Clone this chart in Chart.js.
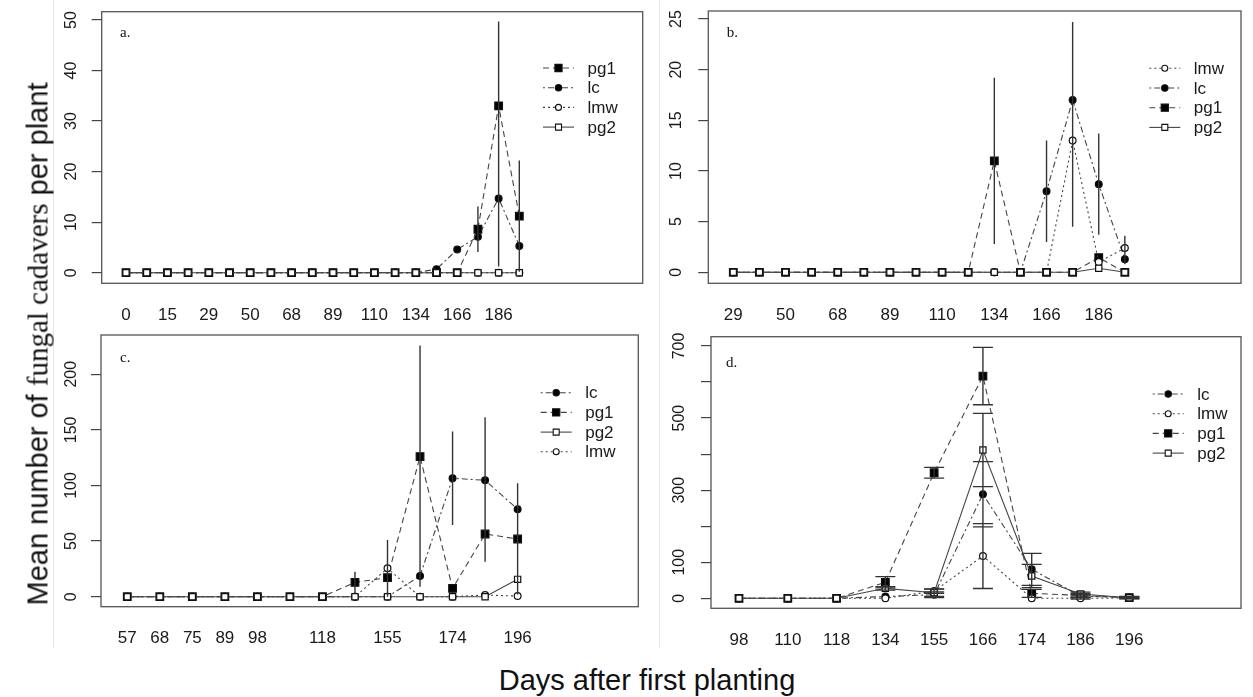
<!DOCTYPE html>
<html>
<head>
<meta charset="utf-8">
<title>Mean number of fungal cadavers per plant</title>
<script src="https://cdn.jsdelivr.net/npm/chart.js@4.4.1/dist/chart.umd.min.js"></script>
<style>
    body { margin: 0; background: #fff; }
    #wrap { position: relative; width: 1253px; height: 697px; overflow: hidden; font-family: "Liberation Sans", Arial, sans-serif; color: #111; }
    #wrap canvas { position: absolute; }
    .sep { position: absolute; width: 1px; background: #e6e6e6; }
    #ytitle { position: absolute; left: 38px; top: 344px; transform: translate(-50%, -50%) rotate(-90deg); white-space: nowrap; font-size: 29px; }
    #xtitle { position: absolute; left: 647px; top: 680px; transform: translate(-50%, -50%); white-space: nowrap; font-size: 29px; }
    .serif { font-family: "Liberation Serif", "Times New Roman", serif; }
</style>
</head>
<body>
<div id="wrap">
    <div class="sep" style="left:53px;top:0;height:648px"></div>
    <div class="sep" style="left:659px;top:0;height:648px"></div>
    <canvas id="chartA" width="610" height="330" style="left:40px;top:0"></canvas>
    <canvas id="chartB" width="603" height="330" style="left:650px;top:0"></canvas>
    <canvas id="chartC" width="610" height="330" style="left:40px;top:320px"></canvas>
    <canvas id="chartD" width="603" height="330" style="left:650px;top:320px"></canvas>
    <div id="ytitle">Mean number of <span class="serif">fungal cadavers</span> per plant</div>
    <div id="xtitle">Days after first planting</div>
</div>

<script>
const FONT = '"Liberation Sans", Arial, sans-serif';

// panel a - x labels ('' = no label at that sampling date)
const aDays = ['0', '', '15', '', '29', '', '50', '', '68', '', '89', '', '110', '', '134', '', '166', '', '186', ''];
const aPg1 = [0, 0, 0, 0, 0, 0, 0, 0, 0, 0, 0, 0, 0, 0, 0, 0, 0, 8.6, 33, 11.2];
const aLc = [0, 0, 0, 0, 0, 0, 0, 0, 0, 0, 0, 0, 0, 0, 0, 0.7, 4.6, 7.1, 14.7, 5.3];
const aLmw = [0, 0, 0, 0, 0, 0, 0, 0, 0, 0, 0, 0, 0, 0, 0, 0, 0, 0, 0, 0];
const aPg2 = [0, 0, 0, 0, 0, 0, 0, 0, 0, 0, 0, 0, 0, 0, 0, 0, 0, 0, 0, 0];
const aPg1Err = [0, 0, 0, 0, 0, 0, 0, 0, 0, 0, 0, 0, 0, 0, 0, 0, 0, 4.5, 16.7, 11];
const aLcErr = [0, 0, 0, 0, 0, 0, 0, 0, 0, 0, 0, 0, 0, 0, 0, 0, 0, 0, 13.5, 0];
const aTicks = [0, 10, 20, 30, 40, 50];

// panel b
const bDays = ['29', '', '50', '', '68', '', '89', '', '110', '', '134', '', '166', '', '186', ''];
const bLmw = [0, 0, 0, 0, 0, 0, 0, 0, 0, 0, 0, 0, 0, 13, 1, 2.4];
const bLc = [0, 0, 0, 0, 0, 0, 0, 0, 0, 0, 0, 0, 8, 17, 8.7, 1.3];
const bPg1 = [0, 0, 0, 0, 0, 0, 0, 0, 0, 0, 11, 0, 0, 0, 1.45, 0];
const bPg2 = [0, 0, 0, 0, 0, 0, 0, 0, 0, 0, 0, 0, 0, 0, 0.4, 0];
const bLmwErr = [0, 0, 0, 0, 0, 0, 0, 0, 0, 0, 0, 0, 0, 8.5, 0, 1.2];
const bLcErr = [0, 0, 0, 0, 0, 0, 0, 0, 0, 0, 0, 0, 5, 7.7, 5, 0.5];
const bPg1Err = [0, 0, 0, 0, 0, 0, 0, 0, 0, 0, 8.2, 0, 0, 0, 0, 0];
const bTicks = [0, 5, 10, 15, 20, 25];

// panel c
const cDays = ['57', '68', '75', '89', '98', '', '118', '', '155', '', '174', '', '196'];
const cLc = [0, 0, 0, 0, 0, 0, 0, 0, 0, 18.6, 106.5, 104.7, 78.6];
const cPg1 = [0, 0, 0, 0, 0, 0, 0, 12.9, 17.1, 125.9, 7.5, 56.4, 51.9];
const cPg2 = [0, 0, 0, 0, 0, 0, 0, 0, 0, 0, 0, 0, 15.6];
const cLmw = [0, 0, 0, 0, 0, 0, 0, 0, 25.5, 0, 0, 1.5, 0.6];
const cLcErr = [0, 0, 0, 0, 0, 0, 0, 0, 0, 9.6, 42, 56.6, 23.4];
const cPg1Err = [0, 0, 0, 0, 0, 0, 0, 9.5, 0, 100, 0, 25, 50];
const cLmwErr = [0, 0, 0, 0, 0, 0, 0, 0, 25.5, 0, 0, 0, 0];
const cTicks = [0, 50, 100, 150, 200];

// panel d
const dDays = ['98', '110', '118', '134', '155', '166', '174', '186', '196'];
const dLc = [0, 0, 0, 5, 10, 288.5, 80.4, 6, 2];
const dLmw = [0, 0, 0, 0, 20, 117.3, 0, 0, 1];
const dPg1 = [0, 0, 0, 44.4, 348.4, 616.6, 13.8, 8, 2];
const dPg2 = [0, 0, 0, 27.7, 15.5, 411.4, 61.9, 12, 1.7];
const dLcErr = [0, 0, 0, 0, 8, 90.5, 44.4, 4, 2];
const dLmwErr = [0, 0, 0, 0, 6, 90, 0, 2, 1];
const dPg1Err = [0, 0, 0, 15.6, 15, 79.6, 11, 5, 3];
const dPg2Err = [0, 0, 0, 5, 10, 101.8, 32.4, 5, 3];
const dTicks = [0, 100, 200, 300, 400, 500, 600, 700];
const dTickShown = [0, 100, 300, 500, 700];

// line type and symbol per treatment (R lty / pch look)
const STYLE = {
    pg1: {dash: [6, 4], shape: 'rect', fill: '#000', r: 5.4, order: 3},
    lc: {dash: [2, 3, 6, 3], shape: 'circle', fill: '#000', r: 3.4, order: 4},
    lmw: {dash: [2, 3], shape: 'circle', fill: '#fff', r: 3.4, order: 2},
    pg2: {dash: [], shape: 'rect', fill: '#fff', r: 4.4, order: 1}
};

const toPoints = (vals) => vals.map((v, i) => ({x: i, y: v}));

// vertical error segments, one dataset, broken with nulls
const errPoints = (vals, errs) => {
    const pts = [];
    vals.forEach((v, i) => {
        if (errs[i] > 0) {
            pts.push({x: i, y: v - errs[i]}, {x: i, y: v + errs[i]}, {x: i, y: null});
        }
    });
    return pts;
};

const seriesSet = (name, vals) => {
    const s = STYLE[name];
    return {
        label: name,
        data: toPoints(vals),
        showLine: true,
        borderColor: '#444',
        borderWidth: 1.1,
        borderDash: s.dash,
        pointStyle: s.shape,
        pointRadius: s.r,
        pointBackgroundColor: s.fill,
        pointBorderColor: '#111',
        pointBorderWidth: 1.2,
        order: s.order
    };
};

const errSet = (pts, capR) => ({
    label: 'err',
    data: pts,
    showLine: true,
    spanGaps: false,
    borderColor: '#333',
    borderWidth: 1.4,
    pointStyle: 'line',
    pointRadius: capR,
    pointBorderColor: '#333',
    pointBorderWidth: 1.3,
    order: 0
});

// frame, panel letter and R style legend
const framePlugin = {
    id: 'frame',
    afterDraw(chart, args, opts) {
        const {ctx, chartArea: a} = chart;
        ctx.save();
        ctx.strokeStyle = '#555';
        ctx.lineWidth = 1.3;
        ctx.strokeRect(a.left, a.top, a.right - a.left, a.bottom - a.top);

        ctx.fillStyle = '#111';
        ctx.font = '15px "Liberation Serif", "Times New Roman", serif';
        ctx.textBaseline = 'middle';
        ctx.fillText(opts.letter, a.left + opts.letterX, a.top + opts.letterY);

        const lg = opts.legend;
        lg.keys.forEach((k, i) => {
            const s = STYLE[k];
            const y = a.top + lg.y + i * 19.7;
            const x0 = a.left + lg.x;
            const x1 = x0 + 31;
            ctx.strokeStyle = '#444';
            ctx.lineWidth = 1.1;
            ctx.setLineDash(s.dash);
            ctx.beginPath();
            ctx.moveTo(x0, y);
            ctx.lineTo(x1, y);
            ctx.stroke();
            ctx.setLineDash([]);
            const cx = (x0 + x1) / 2;
            ctx.fillStyle = s.fill;
            ctx.strokeStyle = '#111';
            ctx.lineWidth = 1.1;
            ctx.beginPath();
            if (s.shape === 'rect') {
                const h = s.fill === '#000' ? 3.6 : 3;
                ctx.rect(cx - h, y - h, 2 * h, 2 * h);
            } else {
                ctx.arc(cx, y, s.fill === '#000' ? 3.2 : 3, 0, Math.PI * 2);
            }
            ctx.fill();
            ctx.stroke();
            ctx.fillStyle = '#1a1a1a';
            ctx.font = '17px ' + FONT;
            ctx.fillText(k, x1 + 13.5, y + 1);
        });
        ctx.restore();
    }
};

const xAxis = (min, max, days, height) => ({
    type: 'linear',
    min: min,
    max: max,
    afterBuildTicks: (s) => {
        s.ticks = days.map((d, i) => (d ? {value: i} : null)).filter(Boolean);
    },
    ticks: {
        autoSkip: false,
        minRotation: 0,
        maxRotation: 0,
        padding: 13.5,
        color: '#1a1a1a',
        font: {family: FONT, size: 17},
        callback: (v) => days[v]
    },
    grid: {display: false},
    border: {display: false},
    afterFit: (s) => {
        s.height = height;
        s.paddingLeft = 0;
        s.paddingRight = 0;
    }
});

const yAxis = (min, max, ticks, shown, width, pad) => ({
    type: 'linear',
    min: min,
    max: max,
    afterBuildTicks: (s) => {
        s.ticks = ticks.map((v) => ({value: v}));
    },
    ticks: {
        autoSkip: false,
        minRotation: 90,
        maxRotation: 90,
        crossAlign: 'center',
        padding: pad,
        color: '#1a1a1a',
        font: {family: FONT, size: 16},
        callback: (v) => (shown.includes(v) ? String(v) : '')
    },
    grid: {display: true, drawOnChartArea: false, drawTicks: true, tickLength: 10, color: '#444', lineWidth: 1.2},
    border: {display: false},
    afterFit: (s) => {
        s.width = width;
        s.paddingTop = 0;
        s.paddingBottom = 0;
    }
});

const makeChart = (id, datasets, x, y, pad, frame) => new Chart(document.getElementById(id), {
    type: 'scatter',
    data: {datasets: datasets},
    options: {
        responsive: false,
        devicePixelRatio: 1,
        animation: false,
        events: [],
        layout: {padding: {left: 0, top: pad.top, right: pad.right, bottom: 0}},
        scales: {x: x, y: y},
        plugins: {legend: {display: false}, tooltip: {enabled: false}, frame: frame}
    },
    plugins: [framePlugin]
});

// a.
makeChart('chartA', [
    seriesSet('pg2', aPg2), seriesSet('lmw', aLmw), seriesSet('pg1', aPg1), seriesSet('lc', aLc),
    errSet(errPoints(aPg1, aPg1Err).concat(errPoints(aLc, aLcErr)), 0)
],
    xAxis(-1.174, 24.96, aDays, 46.7),
    yAxis(-2.1, 51.64, aTicks, aTicks, 61.7, 11.1),
    {top: 11.7, right: 7.3},
    {letter: 'a.', letterX: 18.3, letterY: 21.6, legend: {keys: ['pg1', 'lc', 'lmw', 'pg2'], x: 441.3, y: 56.3}}
);

// b.
makeChart('chartB', [
    seriesSet('pg2', bPg2), seriesSet('lmw', bLmw), seriesSet('pg1', bPg1), seriesSet('lc', bLc),
    errSet(errPoints(bPg1, bPg1Err).concat(errPoints(bLc, bLcErr), errPoints(bLmw, bLmwErr)), 0)
],
    xAxis(-0.958, 19.45, bDays, 46.7),
    yAxis(-1.086, 25.79, bTicks, bTicks, 58.3, 12.7),
    {top: 11, right: 12},
    {letter: 'b.', letterX: 18.4, letterY: 22.3, legend: {keys: ['lmw', 'lc', 'pg1', 'pg2'], x: 441, y: 57.3}}
);

// c.
makeChart('chartC', [
    seriesSet('pg2', cPg2), seriesSet('lmw', cLmw), seriesSet('pg1', cPg1), seriesSet('lc', cLc),
    errSet(errPoints(cPg1, cPg1Err).concat(errPoints(cLc, cLcErr), errPoints(cLmw, cLmwErr)), 0)
],
    xAxis(-0.808, 15.71, cDays, 43.3),
    yAxis(-8.99, 235.3, cTicks, cTicks, 61, 6),
    {top: 15, right: 11.7},
    {letter: 'c.', letterX: 19, letterY: 23.3, legend: {keys: ['lc', 'pg1', 'pg2', 'lmw'], x: 439.7, y: 57.7}}
);

// d.
makeChart('chartD', [
    seriesSet('pg2', dPg2), seriesSet('lmw', dLmw), seriesSet('pg1', dPg1), seriesSet('lc', dLc),
    errSet(errPoints(dPg1, dPg1Err).concat(errPoints(dPg2, dPg2Err), errPoints(dLc, dLcErr), errPoints(dLmw, dLmwErr)), 10)
],
    xAxis(-0.574, 10.29, dDays, 41.7),
    yAxis(-27.7, 725.8, dTicks, dTickShown, 61, 7.7),
    {top: 16.7, right: 12},
    {letter: 'd.', letterX: 15, letterY: 26, legend: {keys: ['lc', 'lmw', 'pg1', 'pg2'], x: 441.7, y: 57.3}}
);
</script>
</body>
</html>
